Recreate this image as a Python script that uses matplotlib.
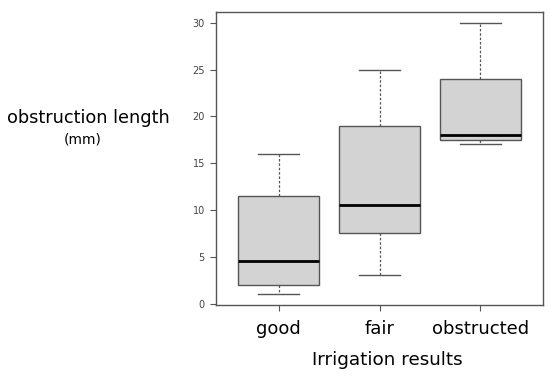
import matplotlib
matplotlib.use("Agg")
import matplotlib.pyplot as plt

categories = ["good", "fair", "obstructed"]
whislo = [1, 3, 17]
q1 = [2, 7.5, 17.5]
med = [4.5, 10.5, 18]
q3 = [11.5, 19, 24]
whishi = [16, 25, 30]
yticks = [0, 5, 10, 15, 20, 25, 30]

fig = plt.figure(figsize=(5.5, 3.76), dpi=100)
ax = fig.add_axes([216/550, 1-305/376, (543-216)/550, (305-12)/376])

stats = []
for i, c in enumerate(categories):
    stats.append(dict(label=c, whislo=whislo[i], q1=q1[i], med=med[i], q3=q3[i], whishi=whishi[i], fliers=[]))

edge = "#555555"
ax.bxp(stats, positions=[1, 2, 3], widths=0.8, patch_artist=True, showfliers=False,
       boxprops=dict(facecolor="#d3d3d3", edgecolor=edge, linewidth=1.0),
       medianprops=dict(color="black", linewidth=2.0),
       whiskerprops=dict(color=edge, linewidth=0.9, linestyle=(0, (2, 1.5))),
       capprops=dict(color=edge, linewidth=1.0),
       capwidths=0.4)

ax.set_xlim(0.38, 3.62)
ax.set_ylim(-0.16, 31.16)
ax.set_yticks(yticks)
ax.set_yticklabels([str(t) for t in yticks], fontsize=7, color="#444444")
ax.set_xticks([1, 2, 3])
ax.set_xticklabels(categories, fontsize=13, color="black")
ax.tick_params(axis="y", length=4, width=0.8, color=edge, pad=4)
ax.tick_params(axis="x", length=4, width=0.8, color=edge, pad=7)
for s in ax.spines.values():
    s.set_color(edge)
    s.set_linewidth(1.0)

fig.text(387/550, 1-360/376, "Irrigation results", fontsize=13.2, ha="center", va="center")
fig.text(88.5/550, 1-118/376, "obstruction length", fontsize=12.8, ha="center", va="center")
fig.text(82.5/550, 1-139/376, "(mm)", fontsize=10, ha="center", va="center")

fig.savefig("out.png", dpi=100)
